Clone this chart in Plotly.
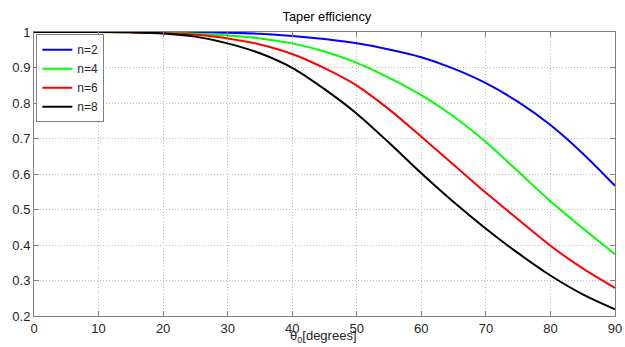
import plotly.graph_objects as go

theta = [0, 5, 10, 15, 20, 25, 30, 35, 40, 45, 50, 55, 60, 65, 70, 75, 80, 85, 90]
eff_n2 = [1, 1, 1, 1, 0.999, 0.999, 0.998, 0.995, 0.989, 0.980, 0.968, 0.951, 0.929, 0.897, 0.856, 0.803, 0.738, 0.658, 0.567]
eff_n4 = [1, 1, 1, 0.999, 0.998, 0.995, 0.990, 0.982, 0.968, 0.945, 0.913, 0.871, 0.822, 0.762, 0.690, 0.607, 0.523, 0.447, 0.374]
eff_n6 = [1, 1, 1, 0.999, 0.997, 0.992, 0.982, 0.965, 0.938, 0.898, 0.849, 0.782, 0.705, 0.626, 0.547, 0.472, 0.398, 0.334, 0.279]
eff_n8 = [1, 1, 1, 0.999, 0.996, 0.987, 0.968, 0.940, 0.899, 0.839, 0.770, 0.688, 0.602, 0.521, 0.446, 0.377, 0.314, 0.261, 0.219]
names = ["n=2", "n=4", "n=6", "n=8"]
colors = ["#0000ff", "#00ff00", "#ff0000", "#000000"]
series = [eff_n2, eff_n4, eff_n6, eff_n8]

x_ticks = [0, 10, 20, 30, 40, 50, 60, 70, 80, 90]
y_ticks = [0.2, 0.3, 0.4, 0.5, 0.6, 0.7, 0.8, 0.9, 1]
y_labels = ["0.2", "0.3", "0.4", "0.5", "0.6", "0.7", "0.8", "0.9", "1"]

FONT = "Liberation Sans, Arial"

fig = go.Figure()
for name, c, ys in zip(names, colors, series):
    fig.add_trace(go.Scatter(x=theta, y=ys, mode="lines", name=name,
                             line=dict(color=c, width=2, shape="spline", smoothing=0.9)))

axis_common = dict(showline=True, linecolor="#808080", linewidth=1, mirror="allticks",
                   ticks="inside", ticklen=5, tickcolor="#808080",
                   showgrid=True, gridcolor="#bdbdbd", griddash="1px,2px", gridwidth=1,
                   zeroline=False, ticklabeloverflow="allow",
                   tickfont=dict(family=FONT, size=13, color="#262626"))

fig.update_layout(
    width=625, height=347,
    margin=dict(l=34, r=3, t=32, b=31),
    paper_bgcolor="white", plot_bgcolor="white",
    title=dict(text="Taper efficiency", x=0.523, xanchor="center", y=0.953, yanchor="middle",
               font=dict(family=FONT, size=12.8, color="#000000")),
    xaxis=dict(range=[0, 90], tickvals=x_ticks, **axis_common),
    yaxis=dict(range=[0.2, 1], tickvals=y_ticks, ticktext=y_labels, **axis_common),
    legend=dict(x=0.004, y=0.992, xanchor="left", yanchor="top", bgcolor="white",
                bordercolor="#808080", borderwidth=1, tracegroupgap=0,
                font=dict(family=FONT, size=12, color="#262626")),
    showlegend=True,
    annotations=[dict(text="θ<sub>0</sub>[degrees]", xref="paper", yref="paper",
                      x=0.498, y=-0.109, xanchor="center", yanchor="bottom", showarrow=False,
                      font=dict(family=FONT, size=13, color="#262626"))],
)

fig.write_html("out.html")
